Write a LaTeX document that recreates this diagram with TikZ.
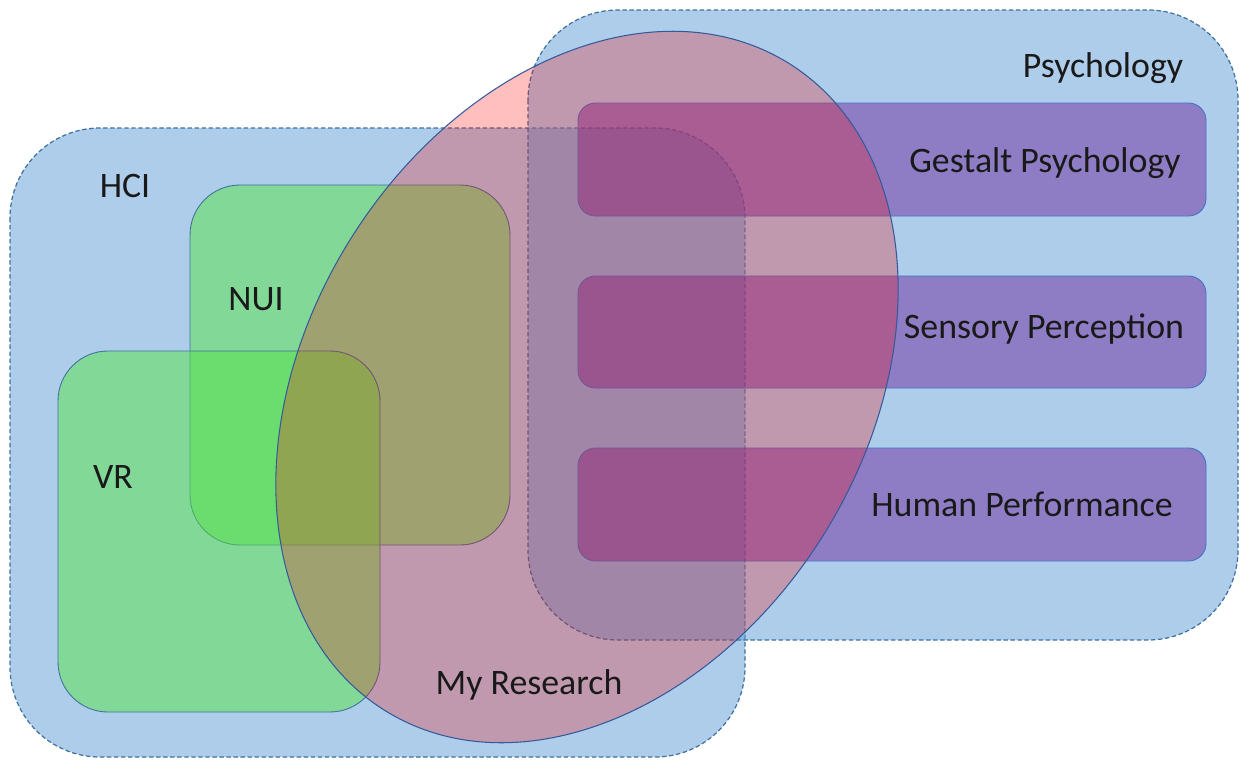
\documentclass[tikz,border=0pt]{standalone}
\usepackage{fontspec}
\setmainfont{Carlito}
\definecolor{areablue}{RGB}{91,155,213}
\definecolor{areaedge}{RGB}{65,113,156}
\definecolor{topicpurple}{RGB}{112,48,160}
\definecolor{topicedge}{RGB}{68,114,196}
\definecolor{fieldgreen}{RGB}{87,227,70}
\definecolor{researchedge}{RGB}{52,90,155}
\begin{document}
\begin{tikzpicture}[x=0.02cm,y=-0.02cm,
  area/.style={draw=areaedge,fill=areablue,fill opacity=0.5,line width=0.7pt,dash pattern=on 2.5pt off 1.5pt,rounded corners=1.8cm},
  topic/.style={draw=topicedge,fill=topicpurple,fill opacity=0.5,line width=0.5pt,rounded corners=0.35cm},
  field/.style={draw=areaedge,fill=fieldgreen,fill opacity=0.5,line width=0.5pt,rounded corners=1cm},
  research/.style={draw=researchedge,fill=red,fill opacity=0.25,line width=0.6pt},
  lbl/.style={anchor=base,inner sep=0pt,text=black!90,font=\fontsize{20.4}{24}\selectfont}]
\useasboundingbox (0,0) rectangle (1242,761);
\draw[area] (10,128) rectangle (745,757);
\draw[area] (528,10) rectangle (1238,640);
\draw[topic] (578,103) rectangle (1206,216);
\draw[topic] (578,276) rectangle (1206,388);
\draw[topic] (578,448) rectangle (1206,561);
\draw[field] (190,185) rectangle (510,545);
\draw[field] (58,351) rectangle (380,712);
\draw[research,rotate around={58:(587,387)}] (587,387) ellipse [x radius=7.63cm,y radius=5.58cm];
\node[lbl] (hci) at (125,197) {HCI};
\node[lbl] (psych) at (1103,77) {Psychology};
\node[lbl] (nui) at (256,310) {NUI};
\node[lbl] (vr) at (113,488) {VR};
\node[lbl] (gestalt) at (1045,172) {Gestalt Psychology};
\node[lbl] (sensory) at (1044,338) {Sensory Perception};
\node[lbl] (human) at (1022,516) {Human Performance};
\node[lbl] (mine) at (529,694) {My Research};
\end{tikzpicture}
\end{document}
